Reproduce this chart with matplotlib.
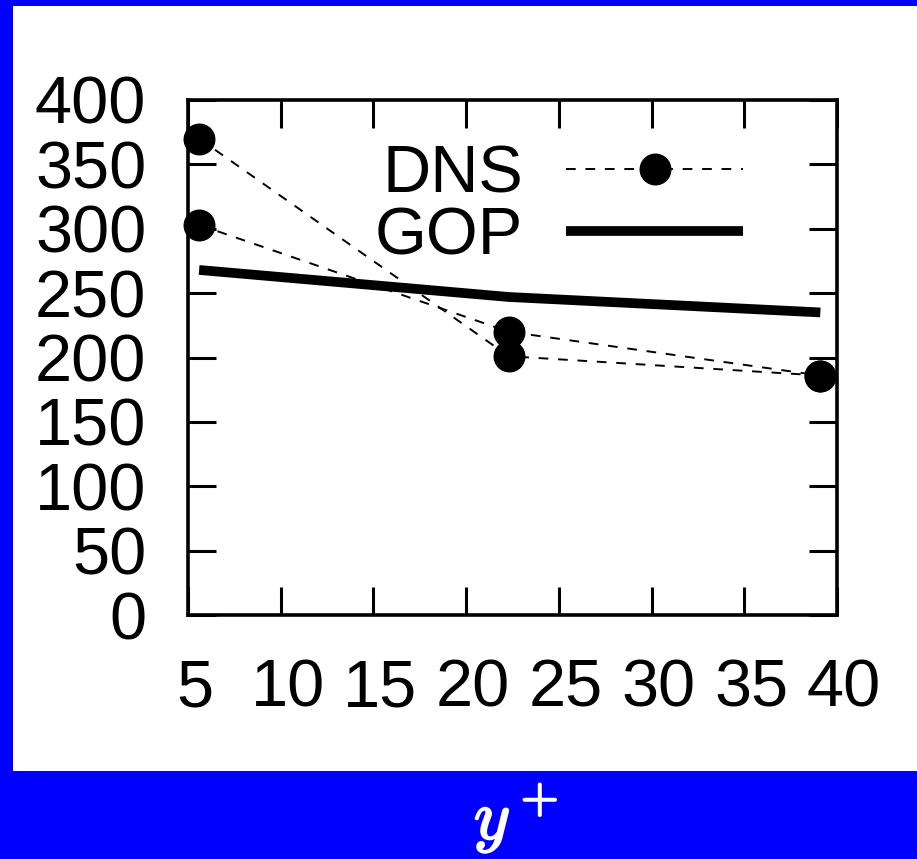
import matplotlib
matplotlib.use("Agg")
import matplotlib.pyplot as plt
import matplotlib.transforms as mtransforms
import matplotlib.patheffects as pe
from matplotlib.patches import Rectangle

plt.rcParams['font.family'] = ['Liberation Sans', 'DejaVu Sans']
plt.rcParams['mathtext.fontset'] = 'cm'

# wall distance and values
y_plus = [5.6, 22.3, 39.1]
dns_a = [370, 201, 186]
dns_b = [303, 220, 186]
gop = [268, 247, 235]

x_ticks = [5, 10, 15, 20, 25, 30, 35, 40]
y_ticks = [0, 50, 100, 150, 200, 250, 300, 350, 400]

W, H = 917, 859
fig = plt.figure(figsize=(W / 100, H / 100), dpi=100, facecolor='#0000ff')

# white panel inside the blue frame
fig.patches.append(Rectangle((13 / W, 88 / H), 1 - 13 / W, (H - 6 - 88) / H,
                             transform=fig.transFigure, facecolor='white',
                             edgecolor='none', zorder=-5))

ax = fig.add_axes([188 / W, (H - 615) / H, (837 - 188) / W, (615 - 100) / H])
ax.set_facecolor('white')

dash_kw = dict(color='black', lw=1.4, dashes=(5, 5), marker='o', ms=22,
               clip_on=False, zorder=3)
ax.plot(y_plus, dns_a, label='DNS', **dash_kw)
ax.plot(y_plus, dns_b, **dash_kw)
ax.plot(y_plus, gop, color='black', lw=7, solid_capstyle='butt',
        label='GOP', zorder=2)

ax.set_xlim(5, 40)
ax.set_ylim(0, 400)
ax.set_xticks(x_ticks)
ax.set_yticks(y_ticks)

for s in ax.spines.values():
    s.set_linewidth(2.6)
ax.tick_params(direction='in', length=20, width=2.2, labelsize=48,
               top=True, right=True)
ax.tick_params(axis='x', pad=31)
ax.tick_params(axis='y', pad=30)

shift = mtransforms.ScaledTranslation(7 / 100, 0, fig.dpi_scale_trans)
for lbl in ax.get_xticklabels():
    lbl.set_transform(lbl.get_transform() + shift)

leg = ax.legend(loc='upper right', bbox_to_anchor=(0.927, 1.005), frameon=False,
                fontsize=48, markerfirst=False, handlelength=2.65,
                handletextpad=0.65, labelspacing=0.0, borderpad=0.2,
                numpoints=1)

fig.text(516 / W, 1 - 819 / H, r'$y^+$', color='white', fontsize=50,
         ha='center', va='center',
         path_effects=[pe.withStroke(linewidth=1.5, foreground='white')])

fig.savefig('out.png', dpi=100, facecolor=fig.get_facecolor())
